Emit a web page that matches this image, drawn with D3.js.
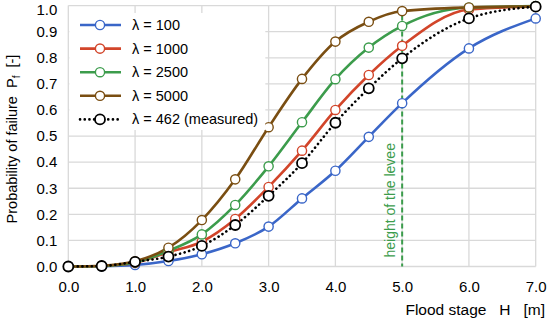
<!DOCTYPE html>
<html><head><meta charset="utf-8">
<script src="https://cdn.jsdelivr.net/npm/d3@7"></script>
<style>body{margin:0;background:#fff;} svg{display:block;font-family:Arial,"Liberation Sans",sans-serif;}</style>
</head><body>
<svg id="c" width="550" height="322"></svg>
<script>
const xs = [0,0.5,1,1.5,2,2.5,3,3.5,4,4.5,5,6,7];
const s100  = [0,0.001,0.006,0.021,0.047,0.089,0.153,0.261,0.367,0.497,0.626,0.836,0.951];
const s1000 = [0,0.002,0.014,0.055,0.095,0.182,0.305,0.444,0.600,0.734,0.846,0.985,0.997];
const s2500 = [0,0.002,0.016,0.060,0.123,0.236,0.384,0.553,0.718,0.839,0.922,0.993,0.998];
const s5000 = [0,0.003,0.020,0.072,0.178,0.334,0.534,0.719,0.862,0.938,0.979,0.993,0.997];
const s462  = [0,0.002,0.018,0.038,0.079,0.159,0.271,0.396,0.551,0.683,0.798,0.951,0.996];
const seriesNames = ["λ = 100","λ = 1000","λ = 2500","λ = 5000","λ = 462 (measured)"];
const seriesColors = ["#3a66c8","#d2452a","#3c9c4c","#7a4e12","#000000"];
const xTicks = [0,1,2,3,4,5,6,7];
const yTicks = [0,0.1,0.2,0.3,0.4,0.5,0.6,0.7,0.8,0.9,1.0];
const levee = 5.0;

const series = [s100,s1000,s2500,s5000,s462];
const svg = d3.select("#c");
const L=68.3, R=535.7, T=5.6, B=266.5;
const x = d3.scaleLinear().domain([0,7]).range([L,R]);
const y = d3.scaleLinear().domain([0,1]).range([B,T]);
const FF = "Arial, Liberation Sans, sans-serif";

// grid
svg.append("g").selectAll("line").data(yTicks).join("line")
  .attr("x1",L).attr("x2",R).attr("y1",d=>y(d)).attr("y2",d=>y(d))
  .attr("stroke","#d9d9d9").attr("stroke-width",1.3);
svg.append("g").selectAll("line").data(xTicks).join("line")
  .attr("y1",T).attr("y2",B).attr("x1",d=>x(d)).attr("x2",d=>x(d))
  .attr("stroke","#d9d9d9").attr("stroke-width",1.3);

// axes labels
const xAxis = d3.axisBottom(x).tickValues(xTicks).tickFormat(d3.format(".1f")).tickSize(0).tickPadding(15);
const gx = svg.append("g").attr("transform",`translate(0,${B})`).call(xAxis);
gx.select(".domain").remove();
gx.selectAll("text").attr("font-size",15).attr("fill","#000").attr("font-family",FF);
const yAxis = d3.axisLeft(y).tickValues(yTicks).tickFormat(d3.format(".1f")).tickSize(0).tickPadding(11);
const gy = svg.append("g").attr("transform",`translate(${L},0)`).call(yAxis);
gy.select(".domain").remove();
gy.selectAll("text").attr("font-size",15).attr("fill","#000").attr("font-family",FF);
gy.selectAll(".tick").filter(d=>d===1).select("text").attr("dy","0.95em").attr("y",-5);

// levee line
svg.append("line").attr("x1",x(levee)).attr("x2",x(levee)).attr("y1",y(1)+2).attr("y2",B)
  .attr("stroke","#3c9c4c").attr("stroke-width",2).attr("stroke-dasharray","5,3");
svg.append("text").attr("transform",`translate(${x(levee)-7},${B-9}) rotate(-90)`)
  .attr("font-size",14).attr("fill","#3c9c4c").text("height of the levee");

// lines
const line = d3.line().x((d,i)=>x(xs[i])).y(d=>y(d)).curve(d3.curveMonotoneX);
series.forEach((s,k)=>{
  const dotted = k===4;
  svg.append("path").attr("d",line(s)).attr("fill","none")
    .attr("stroke",seriesColors[k]).attr("stroke-width",2.6)
    .attr("stroke-dasharray",dotted?"0.1,4.6":null).attr("stroke-linecap",dotted?"round":"butt");
});
series.forEach((s,k)=>{
  svg.append("g").selectAll("circle").data(s).join("circle")
    .attr("cx",(d,i)=>x(xs[i])).attr("cy",d=>y(d)).attr("r",k===4?5:4.6)
    .attr("fill","#fff").attr("stroke",seriesColors[k]).attr("stroke-width",k===4?1.8:1.4);
});

// legend
const lg = svg.append("g");
lg.append("rect").attr("x",L+1).attr("y",13).attr("width",196).attr("height",117).attr("fill","#fff");
seriesNames.forEach((n,k)=>{
  const yy = 25 + k*23.6;
  const dotted = k===4;
  lg.append("line").attr("x1",80).attr("x2",121).attr("y1",yy).attr("y2",yy)
    .attr("stroke",seriesColors[k]).attr("stroke-width",2.6)
    .attr("stroke-dasharray",dotted?"0.1,4.6":null).attr("stroke-linecap",dotted?"round":"butt");
  lg.append("circle").attr("cx",100).attr("cy",yy).attr("r",dotted?5:4.6).attr("fill","#fff")
    .attr("stroke",seriesColors[k]).attr("stroke-width",dotted?1.8:1.4);
  lg.append("text").attr("x",132).attr("y",yy+5).attr("font-size",14.5).text(n);
});

// axis titles
const yt = svg.append("text").attr("transform","translate(17,139) rotate(-90)").attr("text-anchor","middle").attr("font-size",14.5)
  .attr("xml:space","preserve").style("white-space","pre");
yt.append("tspan").text("Probability of failure  P");
yt.append("tspan").attr("font-size",10).attr("dy",3).text("f");
yt.append("tspan").attr("dy",-3).text("  [-]");
svg.append("text").attr("x",545).attr("y",315).attr("text-anchor","end").attr("font-size",15.5)
  .attr("xml:space","preserve").style("white-space","pre").text("Flood stage   H   [m]");
</script>
</body></html>
